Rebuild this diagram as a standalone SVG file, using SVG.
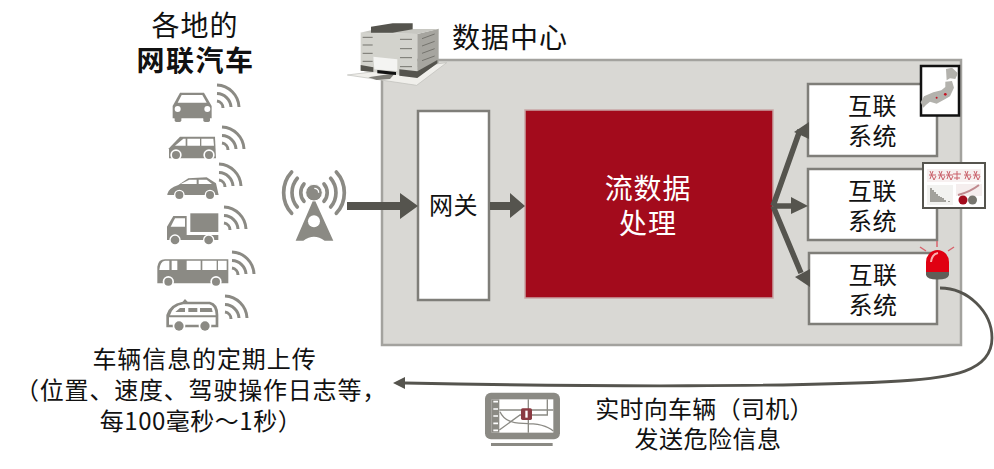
<svg xmlns="http://www.w3.org/2000/svg" width="994" height="469" viewBox="0 0 994 469">
<style>
text{font-family:"Noto Sans CJK SC","Noto Sans",sans-serif;fill:#111;text-anchor:middle}
.t24{font-size:24px}.t28{font-size:28px}
.box{fill:#fff;stroke:#7f7e79;stroke-width:2.5}
.ico{fill:#8b8a84}
.w{fill:#fff}
.wav{fill:none;stroke:#8b8a84;stroke-width:3}
.con{fill:#55544e;stroke:none}
.sh{fill:none;stroke:#55544e;stroke-width:5.5}
</style>
<defs>
<g id="wave"><path class="wav" d="M1 -7A7 7 0 0 1 7 0M1 -14.500A14.500 14.500 0 0 1 15 -1M1 -23A23 23 0 0 1 23 -1"/></g>
<g id="sysText"><text class="t24" x="0" y="0" letter-spacing=".5">互联</text><text class="t24" x="0" y="30" letter-spacing=".5">系统</text></g>
</defs>

<rect id="panel" x="382" y="60" width="579" height="285" fill="#d9d8d4" stroke="#a3a29e" stroke-width="2.5"/>

<g id="title"><text class="t28" x="195" y="36" letter-spacing="1">各地的</text><text class="t28" x="195.500" y="71" font-weight="700" letter-spacing="1.500">网联汽车</text></g>

<g id="vehicles" transform="translate(130,0) scale(.3333)">
<g class="ico">
<path d="M150 278H222L245 318V355H128V318Z"/><rect x="134" y="350" width="20" height="16" rx="5"/><rect x="220" y="350" width="20" height="16" rx="5"/>
<path class="w" d="M155 285H217L230 308H143Z"/><circle class="w" cx="143" cy="327" r="9"/><circle class="w" cx="232" cy="327" r="9"/>

<path d="M117 475V445L150 410H255L258 475Z"/>
<path class="w" d="M135 437L160 416H167V437ZM172 416H210V437H172ZM214 416H250L252 437H214Z"/>
<circle class="w" cx="138" cy="465" r="17"/><circle cx="138" cy="465" r="12"/><circle class="w" cx="237" cy="465" r="17"/><circle cx="237" cy="465" r="12"/>

<path d="M112 582Q115 565 145 555L175 535L230 532L258 550L266 585H112Z"/>
<path class="w" d="M152 552L178 539H200V552ZM206 539H230L246 552H206Z"/>
<circle class="w" cx="148" cy="585" r="16"/><circle cx="148" cy="585" r="12"/><circle class="w" cx="240" cy="585" r="16"/><circle cx="240" cy="585" r="12"/>

<rect x="181" y="640" width="84" height="56"/>
<path d="M111 718V680L130 648H170V705H265V720H111Z"/>
<path class="w" d="M122 680L135 655H165V680Z"/>
<circle class="w" cx="135" cy="720" r="17"/><circle cx="135" cy="720" r="13"/><circle class="w" cx="236" cy="720" r="17"/><circle cx="236" cy="720" r="13"/>

<path d="M82 850V800Q85 778 105 778H295V850Z"/>
<path class="w" d="M88 810Q90 784 105 782H118V810ZM125 782H142V810H125ZM170 782H212V810H170ZM217 782H260V810H217ZM264 782H290V810H264Z"/>
<circle class="w" cx="115" cy="845" r="17"/><circle cx="115" cy="845" r="12"/><circle class="w" cx="258" cy="845" r="17"/><circle cx="258" cy="845" r="12"/>

<path d="M109 982V945Q118 912 158 905L165 897L173 905H240Q265 910 265 945V982ZM117 974H257V952H117ZM120 946H257Q256 918 238 913H160Q128 918 120 946Z" fill-rule="evenodd"/>
<path d="M136 936L150 924H165V936ZM175 924H202V936H175ZM210 924H245L248 936H210Z"/>
<circle class="w" cx="147" cy="978" r="19"/><circle cx="147" cy="978" r="14"/><circle class="w" cx="225" cy="978" r="19"/><circle cx="225" cy="978" r="14"/>
</g>
</g>
<g id="signals">
<use href="#wave" x="216" y="108"/><use href="#wave" x="221" y="150"/><use href="#wave" x="218" y="187"/><use href="#wave" x="223" y="230"/><use href="#wave" x="231" y="275"/><use href="#wave" x="224" y="319"/>
</g>

<g id="tower" transform="translate(130,0) scale(.3333)">
<path class="ico" d="M552 595L610 722H584Q552 698 520 722H497Z"/>
<circle cx="552" cy="664" r="18" class="w"/>
<circle class="ico" cx="552" cy="578" r="25" stroke="#fff" stroke-width="3"/>
<path d="M553 565A13 13 0 0 1 566 578" fill="none" stroke="#fff" stroke-width="4"/>
<path fill="none" stroke="#8b8a84" stroke-width="11" stroke-linecap="round" d="M522 552A40 40 0 0 0 522 604M582 552A40 40 0 0 1 582 604M502 535A66 66 0 0 0 502 621M602 535A66 66 0 0 1 602 621M485 516A92 92 0 0 0 485 640M619 516A92 92 0 0 1 619 640"/>
</g>

<g id="building" transform="translate(340,10) scale(.3333)">
<path d="M22 195L320 158L230 226Z" fill="#f0efeb" stroke="#bdbcb8" stroke-width="2"/>
<path d="M85 202L165 190L150 207L110 210Z" fill="#7d7c76"/>
<path d="M62 68L232 72V200L62 182Z" fill="#d3d3cd"/>
<path d="M232 72L296 56V158L232 200Z" fill="#a6a59f"/>
<path d="M60 68L110 57H296L232 72Z" fill="#c8c8c2"/>
<path d="M93 50L158 40H218V58L158 68H93Z" fill="#55544e"/>
<path d="M62 165L100 172V186L62 182ZM178 178L232 184V204L178 197ZM232 184L292 150V160L232 204Z" fill="#55544e"/>
<path d="M112 180L168 186V195L112 190Z" fill="#111"/>
<path d="M100 140L172 148V183L103 178Z" fill="#f4f4f2"/>
<path d="M68 82H98M68 105H98M68 130H98M68 154H98M180 88H216M180 116H216M180 143H216M180 170H216M246 86L284 72M246 108L284 94M246 130L284 116M246 152L284 138" stroke="#74736d" stroke-width="3" fill="none"/>
</g>
<g id="datacenter"><text class="t28" x="510" y="48" letter-spacing="1">数据中心</text></g>

<g id="gateway"><rect class="box" x="418" y="111" width="71" height="189"/><text class="t24" x="453.500" y="214" letter-spacing=".5">网关</text></g>
<g id="stream"><rect x="525" y="110" width="248" height="188" fill="#a30b1c" stroke="#c9a5a5" stroke-width="1.500"/><text class="t28" x="648" y="199" letter-spacing=".8" style="fill:#fff">流数据</text><text class="t28" x="648" y="234" letter-spacing="1" style="fill:#fff">处理</text></g>

<g id="sys1"><rect class="box" x="808" y="84" width="129" height="72"/><use href="#sysText" x="872.500" y="115"/>
<g id="map"><rect x="921" y="66" width="38" height="49.500" fill="#fff" stroke="#111" stroke-width="2.500"/>
<g transform="translate(770,55) scale(.3333)"><path d="M528 42L546 38L564 55L556 72L540 70L530 76Z" fill="#b3b2ad"/><path d="M526 80L546 78L552 98L540 124L526 132L500 146L480 140L468 150L460 158L452 142L462 124L490 112L514 106L526 96Z" fill="#b3b2ad"/><circle cx="526" cy="118" r="4" fill="#c41222"/><circle cx="500" cy="128" r="3" fill="#c41222"/></g></g></g>

<g id="sys2"><rect class="box" x="808" y="169" width="129" height="71"/><use href="#sysText" x="872.500" y="200"/>
<g id="chart"><rect x="923" y="163" width="62" height="45" fill="#fff" stroke="#55544e" stroke-width="2"/>
<rect x="927" y="169" width="54" height="13" fill="#f7f0f0"/>
<path d="M930 171l4 9l2 -4M929 175h7M933 171l-3 8M939 171l4 9l2 -4M938 175h7M942 171l-3 8M947 171l4 9l2 -4M946 175h7M950 171l-3 8M957 171v9M953 174h8M954 178h6M965 171l4 9l2 -4M964 175h7M968 171l-3 8M974 171l4 9l2 -4M973 175h7M977 171l-3 8" stroke="#c9606a" stroke-width="1" fill="none"/>
<rect x="927" y="185" width="26" height="20" fill="#f2f2f0"/><path d="M931 188v14M933 190v12M935 192v10M937 194v8M939 196v6M941 197v5M943 198v4M945 200v2M949 201v1" stroke="#77766f" stroke-width="1.300"/>
<rect x="956" y="184" width="26" height="12" fill="#f5eeee"/><path d="M958 195Q970 192 979 185" stroke="#c08a8f" stroke-width="2" fill="none"/>
<circle cx="963" cy="200" r="4.500" fill="#a30b1c"/><circle cx="972.500" cy="200" r="4.500" fill="#77766f"/></g></g>

<g id="sys3"><rect class="box" x="809" y="253" width="128" height="71"/><use href="#sysText" x="873" y="284"/>
<g id="beacon"><path d="M926 272V262A11.500 12 0 0 1 949 262V272Z" fill="#e00012"/><path d="M926 272H949V275Q948 279.500 937.500 279.500Q927 279.500 926 275Z" fill="#5f5e58"/><path d="M931 262Q932 254 938 253" stroke="#f9b0b0" stroke-width="2" fill="none"/>
<path d="M937 241V247M920 247L926 251M954 247L948 251" stroke="#d8636c" stroke-width="1.500"/></g></g>

<g id="connectors">
<path class="con" d="M347 202H400V193L418 206L400 219V210H347Z"/>
<path class="con" d="M490 202H510V193L525 206L510 218V210H490Z"/>
<path class="sh" d="M773 206L800 130M773 206H795M773 206L801 273"/>
<path class="con" d="M809 122L794 132L809 139ZM808 206L791 197V214ZM810 287V269L795 277Z"/>
<path d="M940 288C968 288 992 312 992 338C992 372 950 378 900 381C800 387 600 387 405 383" fill="none" stroke="#55544e" stroke-width="2.800"/>
<path class="con" d="M393 383L405 377V389Z"/>
</g>

<g id="caption"><text class="t24" x="204.500" y="368" letter-spacing=".9">车辆信息的定期上传</text><text class="t24" x="201" y="399" letter-spacing=".8">（位置、速度、驾驶操作日志等，</text><text class="t24" x="201" y="430" letter-spacing=".5">每100毫秒～1秒）</text></g>

<g id="nav" transform="translate(380,370) scale(.3333)">
<rect x="315" y="68" width="225" height="140" rx="18" fill="#8b8a84"/><rect x="335" y="88" width="185" height="100" fill="#fff"/><rect x="335" y="88" width="23" height="100" fill="#8b8a84"/>
<path d="M340 95H354M340 117H354M340 138H354M340 160H354M340 181H354" stroke="#fff" stroke-width="5"/>
<path d="M358 120H520M445 88V188M502 88V135H420L358 180M360 125Q375 160 430 160C470 160 500 165 520 183" fill="none" stroke="#8b8a84" stroke-width="4"/>
<rect x="423" y="115" width="33" height="35" rx="5" fill="#8a3a42"/><rect x="436" y="122" width="7" height="21" fill="#fff"/>
<rect x="333" y="219" width="185" height="9" fill="#8b8a84"/>
</g>
<g id="alert"><text class="t24" x="704.500" y="418" letter-spacing=".3">实时向车辆（司机）</text><text class="t24" x="708" y="448" letter-spacing=".5">发送危险信息</text></g>
</svg>
